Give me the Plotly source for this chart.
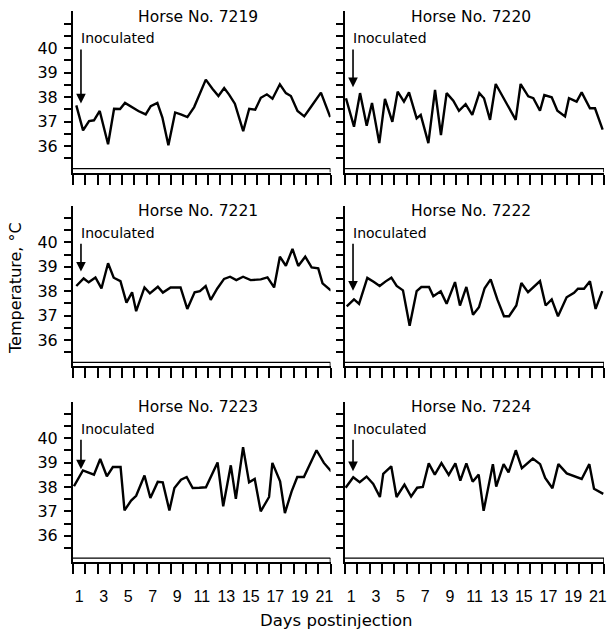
import plotly.graph_objects as go

# ---------------- data ----------------
horses = ["7219", "7220", "7221", "7222", "7223", "7224"]

days_7219 = [0.77, 1.32, 1.81, 2.21, 2.68, 3.36, 3.85, 4.34, 4.74, 5.29, 5.83, 6.43, 6.84, 7.38, 7.79,
             8.28, 8.83, 9.29, 9.83, 10.38, 10.84, 11.33, 11.87, 12.36, 12.83, 13.23, 13.70, 14.38,
             14.87, 15.36, 15.82, 16.31, 16.77, 17.37, 17.86, 18.27, 18.81, 19.36, 19.90, 20.72, 21.48]
temp_7219 = [37.66, 36.64, 37.02, 37.05, 37.43, 36.07, 37.52, 37.51, 37.76, 37.59, 37.43, 37.29, 37.63,
             37.76, 37.16, 36.03, 37.37, 37.29, 37.18, 37.59, 38.14, 38.71, 38.34, 38.04, 38.37, 38.10,
             37.73, 36.61, 37.52, 37.48, 37.97, 38.11, 37.93, 38.52, 38.16, 38.04, 37.43, 37.21, 37.59,
             38.18, 37.18]

days_7220 = [0.58, 1.23, 1.72, 2.26, 2.69, 3.28, 3.74, 4.34, 4.77, 5.28, 5.69, 6.31, 6.64, 7.26, 7.80,
             8.28, 8.74, 9.28, 9.74, 10.28, 10.82, 11.39, 11.77, 12.26, 12.72, 13.34, 13.82, 14.34,
             14.74, 15.36, 15.77, 16.31, 16.66, 17.26, 17.72, 18.34, 18.66, 19.28, 19.69, 20.36, 20.77,
             21.39]
temp_7220 = [37.95, 36.79, 38.16, 36.83, 37.76, 36.12, 37.92, 36.99, 38.22, 37.81, 38.19, 37.13, 37.27,
             36.12, 38.29, 36.45, 38.16, 37.85, 37.44, 37.71, 37.27, 38.16, 37.95, 37.07, 38.53, 37.95,
             37.51, 37.07, 38.53, 38.03, 37.95, 37.44, 38.08, 37.99, 37.44, 37.21, 37.95, 37.81, 38.19,
             37.54, 37.54, 36.67]

days_7221 = [0.77, 1.37, 1.78, 2.33, 2.82, 3.36, 3.82, 4.37, 4.86, 5.32, 5.65, 6.33, 6.77, 7.42, 7.83,
             8.46, 9.27, 9.82, 10.42, 10.85, 11.32, 11.73, 12.27, 12.82, 13.31, 13.82, 14.37, 14.99,
             15.81, 16.36, 16.90, 17.37, 17.86, 18.40, 18.87, 19.44, 19.96, 20.50, 20.85, 21.54]
temp_7221 = [38.21, 38.52, 38.36, 38.56, 38.11, 39.14, 38.55, 38.41, 37.53, 37.95, 37.18, 38.15, 37.91,
             38.18, 37.94, 38.15, 38.15, 37.27, 37.95, 38.00, 38.21, 37.64, 38.11, 38.50, 38.59, 38.45,
             38.59, 38.45, 38.48, 38.56, 38.15, 39.41, 39.04, 39.73, 39.03, 39.41, 38.97, 38.93, 38.32,
             38.02]

days_7222 = [0.64, 1.23, 1.64, 2.31, 2.85, 3.31, 3.80, 4.26, 4.69, 5.20, 5.74, 6.31, 6.69, 7.31, 7.66,
             8.26, 8.74, 9.42, 9.82, 10.34, 10.88, 11.36, 11.82, 12.31, 12.85, 13.39, 13.80, 14.39,
             14.80, 15.34, 16.31, 16.77, 17.26, 17.77, 18.47, 19.07, 19.39, 19.88, 20.36, 20.82, 21.36]
temp_7222 = [37.38, 37.66, 37.48, 38.54, 38.37, 38.21, 38.40, 38.55, 38.21, 38.03, 36.58, 38.00, 38.17,
             38.17, 37.79, 37.99, 37.48, 38.37, 37.41, 38.17, 37.03, 37.34, 38.12, 38.48, 37.66, 36.97,
             36.97, 37.41, 38.33, 37.96, 38.41, 37.41, 37.66, 36.97, 37.75, 37.93, 38.10, 38.10, 38.40,
             37.27, 38.00]

days_7223 = [0.58, 1.31, 1.72, 2.21, 2.72, 3.26, 3.75, 4.38, 4.70, 5.24, 5.65, 6.33, 6.81, 7.41, 7.82,
             8.36, 8.77, 9.31, 9.77, 10.26, 10.80, 11.34, 12.29, 12.75, 13.37, 13.78, 14.37, 14.86,
             15.32, 15.81, 16.49, 16.76, 17.39, 17.78, 18.33, 18.79, 19.33, 20.36, 20.96, 21.56]
temp_7223 = [38.03, 38.68, 38.60, 38.51, 39.15, 38.44, 38.82, 38.82, 37.04, 37.44, 37.64, 38.47, 37.55,
             38.21, 38.19, 37.04, 37.96, 38.30, 38.41, 37.96, 37.97, 37.99, 39.01, 37.21, 38.89, 37.51,
             39.64, 38.19, 38.33, 37.00, 37.59, 38.99, 38.23, 36.93, 37.82, 38.41, 38.41, 39.51, 38.99,
             38.64]

days_7224 = [0.55, 1.17, 1.69, 2.25, 2.79, 3.33, 3.60, 4.25, 4.68, 5.32, 5.86, 6.35, 6.81, 7.29, 7.78,
             8.32, 8.91, 9.45, 9.85, 10.34, 10.85, 11.34, 11.74, 12.49, 12.76, 13.36, 13.76, 14.35,
             14.84, 15.73, 16.32, 16.73, 17.32, 17.80, 18.48, 19.02, 19.69, 20.31, 20.69, 21.44]
temp_7224 = [37.97, 38.40, 38.20, 38.43, 38.13, 37.59, 38.54, 38.85, 37.59, 38.10, 37.61, 37.97, 38.00,
             38.97, 38.51, 38.98, 38.50, 38.97, 38.26, 38.97, 38.22, 38.51, 37.02, 38.94, 38.02, 38.94,
             38.60, 39.51, 38.77, 39.17, 38.94, 38.37, 37.95, 38.94, 38.56, 38.47, 38.33, 38.94, 37.93,
             37.72]

inoculation_day = 1.15
arrow_tip_temp = [37.74, 38.40, 38.80, 38.02, 38.73, 38.65]

x_tick_labels = [1, 3, 5, 7, 9, 11, 13, 15, 17, 19, 21]
x_minor_ticks = [0.5 + k for k in range(22)]
y_tick_values = [35.5 + 0.5 * k for k in range(12)]
y_tick_labels = [36, 37, 38, 39, 40]

all_days = [days_7219, days_7220, days_7221, days_7222, days_7223, days_7224]
all_temps = [temp_7219, temp_7220, temp_7221, temp_7222, temp_7223, temp_7224]
for d, t in zip(all_days, all_temps):
    assert len(d) == len(t)

# ---------------- layout geometry ----------------
W, H = 607, 633
col_px = [(73, 330.5), (345, 604)]
row_px = [(11.25, 172.5), (205.7, 366.3), (401.8, 562.0)]
YR = [34.92, 41.5]
XR = [0.5, 21.5]
FONT = "DejaVu Sans"

fig = go.Figure()
annotations = []
shapes = []

for i, h in enumerate(horses):
    r, c = divmod(i, 2)
    n = i + 1
    sfx = "" if n == 1 else str(n)
    xref, yref = "x" + sfx, "y" + sfx
    fig.add_trace(go.Scatter(
        x=all_days[i], y=all_temps[i], mode="lines",
        line=dict(color="black", width=2.4),
        xaxis=xref, yaxis=yref, showlegend=False, hoverinfo="skip"))

    x0, x1 = col_px[c]
    t, b = row_px[r]
    show_x_labels = (r == 2)
    show_y_labels = (c == 0)

    fig.layout["xaxis" + sfx] = dict(
        domain=[x0 / W, x1 / W], range=XR, anchor=yref,
        showline=True, linewidth=2, linecolor="black",
        showgrid=False, zeroline=False, automargin=False,
        tickmode="array", tickvals=x_tick_labels,
        ticktext=[str(v) if show_x_labels else "" for v in x_tick_labels],
        ticks="outside", ticklen=10, tickcolor="rgba(0,0,0,0)",
        ticklabelstandoff=9,
        tickfont=dict(family="Liberation Sans", size=16, color="black"),
        minor=dict(tickmode="array", tickvals=x_minor_ticks, ticks="outside",
                   ticklen=10, tickwidth=1.6, tickcolor="black"),
        fixedrange=True,
    )
    fig.layout["yaxis" + sfx] = dict(
        domain=[1 - b / H, 1 - t / H], range=YR, anchor=xref,
        showline=True, linewidth=2, linecolor="black",
        showgrid=False, zeroline=False, automargin=False,
        tickmode="array", tickvals=y_tick_values,
        ticktext=[(str(int(v)) if (show_y_labels and v in y_tick_labels) else "") for v in y_tick_values],
        ticks="outside", ticklen=7, tickwidth=1.6, tickcolor="black",
        ticklabelstandoff=3,
        tickfont=dict(family=FONT, size=16, color="black"),
        fixedrange=True,
    )

    # panel title
    annotations.append(dict(
        x=10.7, y=41.28, xref=xref, yref=yref, text="Horse No. " + h,
        showarrow=False, xanchor="center", yanchor="middle",
        font=dict(family=FONT, size=15.5, color="black")))
    # "Inoculated" label
    annotations.append(dict(
        x=0.95, y=40.4, xref=xref, yref=yref, text="Inoculated",
        showarrow=False, xanchor="left", yanchor="middle",
        font=dict(family=FONT, size=14, color="black")))
    # arrow
    annotations.append(dict(
        x=inoculation_day, y=arrow_tip_temp[i], xref=xref, yref=yref,
        ax=inoculation_day, ay=40.0, axref=xref, ayref=yref, text="",
        showarrow=True, arrowhead=2, arrowsize=1.2, arrowwidth=1.6, arrowcolor="black"))

    # thin baseline just above the axis
    shapes.append(dict(type="line", xref=xref, yref=yref, x0=XR[0], x1=XR[1], y0=35.08, y1=35.08,
                       line=dict(color="black", width=1.3)))
    shapes.append(dict(type="line", xref=xref, yref=yref, x0=XR[1], x1=XR[1], y0=35.08, y1=YR[0],
                       line=dict(color="black", width=1.6)))

# shared axis titles
annotations.append(dict(
    x=15 / W, y=1 - 288 / H, xref="paper", yref="paper", text="Temperature, °C",
    textangle=-90, showarrow=False, xanchor="center", yanchor="middle",
    font=dict(family=FONT, size=16, color="black")))
annotations.append(dict(
    x=337 / W, y=1 - 620 / H, xref="paper", yref="paper", text="Days postinjection",
    showarrow=False, xanchor="center", yanchor="middle",
    font=dict(family=FONT, size=16.5, color="black")))

fig.update_layout(
    width=W, height=H,
    margin=dict(l=0, r=0, t=0, b=0),
    paper_bgcolor="white", plot_bgcolor="white",
    annotations=annotations, shapes=shapes,
    showlegend=False,
)

fig.write_html(
    "out.html",
    config={"displayModeBar": False},
    post_script="document.body.style.margin='0';document.body.style.padding='0';"
                "document.body.style.overflow='hidden';",
)
